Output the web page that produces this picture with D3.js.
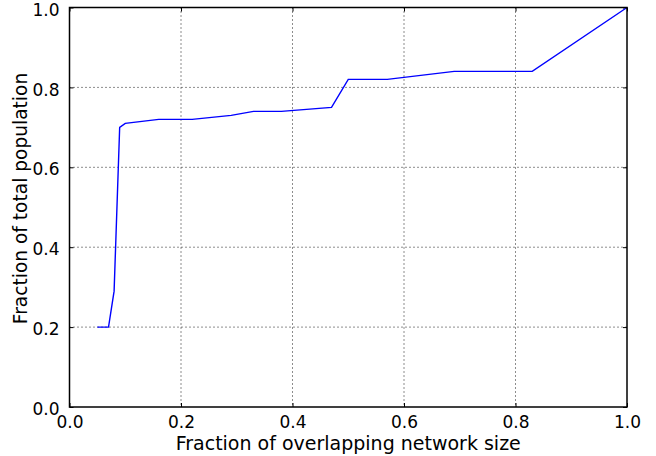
<!DOCTYPE html>
<html>
<head>
<meta charset="utf-8">
<script src="https://cdn.jsdelivr.net/npm/d3@7"></script>
<style>
  body { margin: 0; background: #fff; }
  svg { display: block; font-family: "DejaVu Sans", sans-serif; }
  .grid line { stroke: #000; stroke-dasharray: 1,3; stroke-width: 0.9; }
  .axis text { font-size: 17px; fill: #000; font-family: "DejaVu Sans", sans-serif; }
  .axis path { display: none; }
  .axis line { stroke: #000; }
  .label { fill: #000; }
</style>
</head>
<body>
<div id="chart"></div>
<script>
// values
const xValues = [0.05, 0.07, 0.08, 0.09, 0.10, 0.16, 0.22, 0.29, 0.33, 0.38, 0.47, 0.50, 0.57, 0.69, 0.83, 1.0];
const yValues = [0.20, 0.20, 0.29, 0.70, 0.71, 0.72, 0.72, 0.73, 0.74, 0.74, 0.75, 0.82, 0.82, 0.84, 0.84, 1.0];
const xTicks = [0.0, 0.2, 0.4, 0.6, 0.8, 1.0];
const yTicks = [0.0, 0.2, 0.4, 0.6, 0.8, 1.0];
const xLabel = "Fraction of overlapping network size";
const yLabel = "Fraction of total population";

const W = 656, H = 456;
const margin = {top: 7.5, right: 29, bottom: 49, left: 69.5};
const width = W - margin.left - margin.right;
const height = H - margin.top - margin.bottom;

const svg = d3.select("#chart").append("svg")
    .attr("width", W)
    .attr("height", H);

const g = svg.append("g")
    .attr("transform", "translate(" + margin.left + "," + margin.top + ")");

const x = d3.scaleLinear().domain([0, 1]).range([0, width]);
const y = d3.scaleLinear().domain([0, 1]).range([height, 0]);

// dotted grid
const grid = g.append("g").attr("class", "grid");
grid.selectAll(".gx").data(xTicks.slice(1, -1)).enter().append("line")
    .attr("x1", d => x(d)).attr("x2", d => x(d))
    .attr("y1", 0).attr("y2", height);
grid.selectAll(".gy").data(yTicks.slice(1, -1)).enter().append("line")
    .attr("y1", d => y(d)).attr("y2", d => y(d))
    .attr("x1", 0).attr("x2", width);

// axes with inward ticks (matplotlib classic style)
const fmt = d3.format(".1f");
g.append("g").attr("class", "axis")
    .attr("transform", "translate(0," + height + ")")
    .call(d3.axisBottom(x).tickValues(xTicks).tickFormat(fmt).tickSizeInner(-4).tickSizeOuter(0).tickPadding(9))
    .selectAll("text").attr("dy", "0.71em");
g.append("g").attr("class", "axis")
    .call(d3.axisTop(x).tickValues(xTicks).tickFormat("").tickSizeInner(-4).tickSizeOuter(0));
g.append("g").attr("class", "axis")
    .call(d3.axisLeft(y).tickValues(yTicks).tickFormat(fmt).tickSizeInner(-4).tickSizeOuter(0).tickPadding(10))
    .selectAll("text").attr("dy", "0.45em");
g.append("g").attr("class", "axis")
    .attr("transform", "translate(" + width + ",0)")
    .call(d3.axisRight(y).tickValues(yTicks).tickFormat("").tickSizeInner(-4).tickSizeOuter(0));

// data line
const pts = xValues.map((v, i) => [v, yValues[i]]);
g.append("path")
    .datum(pts)
    .attr("fill", "none")
    .attr("stroke", "#0000ff")
    .attr("stroke-width", 1.4)
    .attr("d", d3.line().x(d => x(d[0])).y(d => y(d[1])));

// frame
g.append("rect")
    .attr("width", width).attr("height", height)
    .attr("fill", "none").attr("stroke", "#000").attr("stroke-width", 1.5);

// axis labels
svg.append("text")
    .attr("class", "label")
    .attr("x", margin.left + width / 2)
    .attr("y", H - 6)
    .attr("text-anchor", "middle")
    .style("font-size", "19px")
    .text(xLabel);

svg.append("text")
    .attr("class", "label")
    .attr("transform", "translate(27,198.5)rotate(-90)")
    .attr("text-anchor", "middle")
    .style("font-size", "18.6px")
    .text(yLabel);
</script>
</body>
</html>
